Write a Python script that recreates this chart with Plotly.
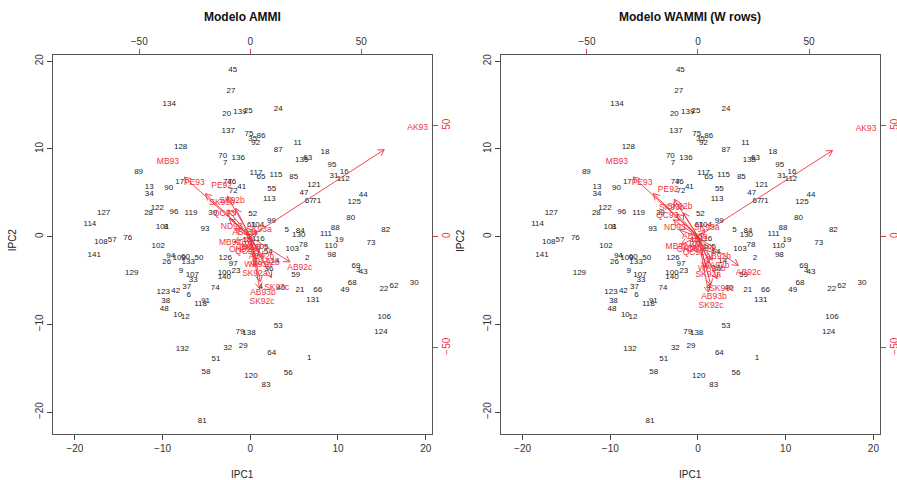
import math
import plotly.graph_objects as go

# ---------------- data ----------------
geno_labels = [str(i) for i in range(1, 142)]
ipc1 = [6.73, 6.50, 12.31, 1.19, 4.15, -7.02, -2.85, -9.61, -7.90, -8.28,
        5.40, -7.41, -11.52, 2.82, -0.38, 10.72, -8.05, 8.52, 10.15, -2.69,
        5.67, 15.25, -1.63, 3.19, -0.23, -9.53, -2.20, -11.59, -0.80, 18.70,
        9.54, -2.58, -6.50, -11.52, 0.27, 2.13, -7.25, -9.65, -4.29, 3.50,
        -0.98, -8.51, 12.88, 12.88, -2.01, -2.12, 6.12, -9.81, 10.80, -5.85,
        -3.91, 0.27, 3.19, 2.05, 2.44, 4.33, -15.74, -5.05, 5.18, -7.39,
        0.14, 16.39, 6.55, 2.44, 1.22, 7.69, 6.73, 11.63, 12.05, -3.15,
        7.57, -1.94, 13.76, -3.99, -0.15, -13.98, -2.60, 6.04, -1.17, 11.45,
        -5.47, 15.44, 1.79, 5.70, 4.95, 1.22, 3.19, 9.69, -12.73, -9.30,
        -5.09, 0.62, -5.17, -9.08, 9.32, -8.70, -1.94, 9.28, 2.42, -2.96,
        -10.01, -10.49, 4.79, 0.82, 1.30, 15.28, -6.61, -17.02, -8.10, 9.20,
        8.63, 10.60, 2.17, -18.28, 2.93, 0.91, 0.65, -5.66, -6.76, 0.08,
        7.26, -10.60, -9.92, 14.90, 11.86, -2.85, -16.72, -7.94, -13.52, 5.52,
        7.15, -7.75, -7.07, -9.24, 5.86, -1.37, -2.51, -0.15, -1.17, -2.96,
        -17.79]
ipc2 = [-13.80, -2.43, -3.80, -5.70, 0.73, -6.68, 8.40, 1.14, -3.88, -8.93,
        10.68, -9.12, 5.70, -2.74, -0.38, 7.34, 6.24, 9.66, -0.38, 14.03,
        -6.08, -5.93, -3.95, 14.53, 14.37, -2.88, 16.65, 2.74, -12.43, -5.28,
        6.92, -12.66, -4.94, 4.90, 11.11, -3.72, -5.77, -7.30, 2.67, -5.85,
        5.67, -6.16, -4.03, 4.72, 19.01, 6.24, 4.95, -8.21, -6.04, -2.46,
        -13.98, 2.53, -10.15, -1.74, 5.47, -15.58, -0.38, -15.39, -4.37, -2.35,
        1.33, -5.59, 8.97, -13.30, 6.77, -6.08, 4.07, -5.25, -3.34, 9.24,
        4.07, 5.25, -0.75, -5.85, 11.68, -0.11, 6.18, -0.95, -10.90, 2.10,
        -21.01, 0.76, -16.88, 0.62, 6.84, 11.48, 9.89, 1.03, 7.38, 5.59,
        -7.33, 10.65, 0.84, -2.20, 8.14, 2.85, -3.11, -2.09, 1.79, -4.17,
        1.14, -1.06, -1.44, 1.33, -1.14, -9.18, -4.40, -0.64, -2.46, -1.06,
        0.27, 6.58, 4.33, 1.45, 7.04, -0.30, 7.23, -7.71, 2.67, -15.85,
        5.93, 3.24, -6.31, -10.83, 3.92, -2.46, 2.67, 10.19, -4.10, 0.23,
        -7.18, -12.81, -2.88, 15.17, 8.71, 8.94, 12.09, -11.01, 14.25, -4.65,
        -2.05]

env_labels = ["AK93", "MB93", "PE93", "PE92", "SK93b", "SK92b", "QC93", "ND93",
              "AB93a", "SK93a", "MB92", "ON92", "ON93", "QC92", "AB92b", "WA93b",
              "WA92b", "SK92a", "AB92c", "SK93c", "AB93b", "SK92c"]
# AMMI environment scores (IPC1, IPC2)
ammi_e1 = [75.4, -37.1, -25.2, -12.9, -12.7, -8.2, -11.8, -8.4, -2.4, 3.9, -9.1,
           -4.6, -0.1, -1.9, 5.1, 3.5, 7.1, 2.1, 22.3, 11.9, 5.7, 5.3]
ammi_e2 = [49.0, 33.5, 24.1, 22.8, 15.1, 15.9, 10.1, 4.5, 1.5, 3.0, -3.0,
           -6.0, -5.1, -6.9, -9.0, -12.7, -11.8, -16.9, -14.2, -23.0, -25.4, -29.4]
# WAMMI environment scores (IPC1, IPC2)
wammi_e1 = [75.7, -36.5, -25.2, -13.4, -11.8, -8.2, -13.8, -10.4, -1.4, 3.9, -9.6,
            -4.6, -0.1, -1.9, 9.1, 6.2, 8.0, 4.6, 22.7, 10.7, 7.2, 5.9]
wammi_e2 = [48.5, 33.6, 24.2, 21.0, 12.8, 13.4, 9.5, 3.8, 0.0, 3.8, -4.5,
            -6.0, -5.5, -7.3, -9.0, -14.7, -13.2, -17.3, -16.2, -23.7, -27.2, -31.2]

geno_ticks = [-20, -10, 0, 10, 20]
env_ticks = [-50, 0, 50]
titles = ["Modelo AMMI", "Modelo WAMMI (W rows)"]

# ---------------- style ----------------
W, H = 897, 480
FONT = "Liberation Sans, Arial, sans-serif"
RED = "#F2323C"
BLACK = "#222222"
XR = [-22.46, 20.72]
YR = [-22.5, 20.75]
SCALE = 3.95  # env axis units per genotype axis unit
HEAD = 3.1    # arrowhead length in env units
ARROW_FRAC = 0.8

fig = go.Figure()

panels = [
    dict(x0=53.3, x1=432.0, gx="x", gy="y", ex="x3", ey="y3",
         e1=ammi_e1, e2=ammi_e2, title=titles[0]),
    dict(x0=501.0, x1=879.7, gx="x2", gy="y2", ex="x4", ey="y4",
         e1=wammi_e1, e2=wammi_e2, title=titles[1]),
]
ytop, ybot = 54.7, 434.0

for p in panels:
    lx, ly = [], []
    for a, b in zip(p["e1"], p["e2"]):
        tx, ty = ARROW_FRAC * a, ARROW_FRAC * b
        lx += [0, tx, None]
        ly += [0, ty, None]
        th = math.atan2(ty, tx)
        for d in (math.radians(30), -math.radians(30)):
            lx += [tx, tx - HEAD * math.cos(th + d), None]
            ly += [ty, ty - HEAD * math.sin(th + d), None]
    fig.add_trace(go.Scatter(x=lx, y=ly, mode="lines", xaxis=p["ex"], yaxis=p["ey"],
                             line=dict(color=RED, width=0.9), hoverinfo="skip",
                             showlegend=False))
    fig.add_trace(go.Scatter(x=p["e1"], y=p["e2"], mode="text", text=env_labels,
                             textposition="middle center", xaxis=p["ex"], yaxis=p["ey"],
                             textfont=dict(family=FONT, size=8.5, color=RED),
                             showlegend=False))
    fig.add_trace(go.Scatter(x=ipc1, y=ipc2, mode="text", text=geno_labels,
                             textposition="middle center", xaxis=p["gx"], yaxis=p["gy"],
                             textfont=dict(family=FONT, size=8, color=BLACK),
                             showlegend=False))

def gaxis(dom, rng, angle=0, anchor=None):
    return dict(domain=dom, range=rng, tickvals=geno_ticks, ticks="outside", ticklen=5,
                tickcolor="#444", showline=True, mirror=True, linecolor="#555",
                linewidth=1, showgrid=False, zeroline=False, anchor=anchor,
                automargin=False, tickangle=angle,
                tickfont=dict(family=FONT, size=10, color="#333"))

def eaxis(over, side, rng, anchor, angle=0, tcolor="#333"):
    return dict(overlaying=over, side=side, range=rng, anchor=anchor, tickvals=env_ticks,
                ticks="outside", ticklen=5, tickcolor=RED, showline=False, showgrid=False,
                zeroline=False, tickangle=angle, automargin=False,
                tickfont=dict(family=FONT, size=10, color=tcolor))

ydom = [(H - ybot) / H, (H - ytop) / H]
erx = [XR[0] * SCALE, XR[1] * SCALE]
ery = [YR[0] * SCALE, YR[1] * SCALE]

layout = dict(width=W, height=H, margin=dict(l=0, r=0, t=0, b=0, autoexpand=False),
              plot_bgcolor="white", paper_bgcolor="white", showlegend=False)
layout["xaxis"] = gaxis([53.3 / W, 432.0 / W], XR, anchor="y")
layout["yaxis"] = gaxis(ydom, YR, angle=-90, anchor="x")
layout["xaxis2"] = gaxis([501.0 / W, 879.7 / W], XR, anchor="y2")
layout["yaxis2"] = gaxis(ydom, YR, angle=-90, anchor="x2")
layout["xaxis3"] = eaxis("x", "top", erx, "y")
layout["yaxis3"] = eaxis("y", "right", ery, "x", angle=-90, tcolor=RED)
layout["xaxis4"] = eaxis("x2", "top", erx, "y2")
layout["yaxis4"] = eaxis("y2", "right", ery, "x2", angle=-90, tcolor=RED)

anns = []
for p in panels:
    cx = (p["x0"] + p["x1"]) / 2 / W
    anns.append(dict(text="<b>%s</b>" % p["title"], x=cx, y=(H - 16.7) / H, xref="paper",
                     yref="paper", showarrow=False, xanchor="center", yanchor="middle",
                     font=dict(family=FONT, size=12, color="#111")))
    anns.append(dict(text="IPC1", x=cx, y=(H - 474) / H, xref="paper", yref="paper",
                     showarrow=False, xanchor="center", yanchor="middle",
                     font=dict(family=FONT, size=10, color="#222")))
    anns.append(dict(text="IPC2", x=(p["x0"] - 41) / W, y=(H - 240) / H, xref="paper",
                     yref="paper", showarrow=False, textangle=-90, xanchor="center",
                     yanchor="middle", font=dict(family=FONT, size=10, color="#222")))
layout["annotations"] = anns
fig.update_layout(**layout)

fig.write_html("out.html", config={"displayModeBar": False},
               post_script="document.body.style.margin='0px';")
